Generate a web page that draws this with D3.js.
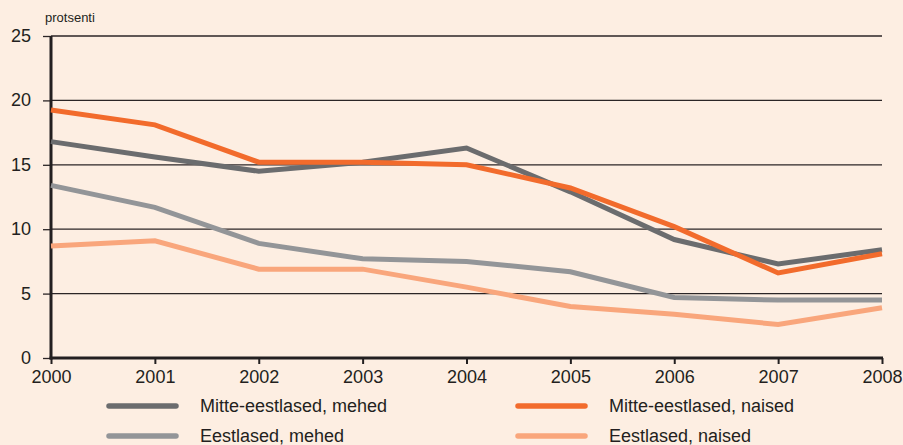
<!DOCTYPE html>
<html>
<head>
<meta charset="utf-8">
<script src="https://cdn.jsdelivr.net/npm/d3@7"></script>
<style>
  html, body { margin: 0; padding: 0; background: #fdeee2; }
  svg { display: block; font-family: "Liberation Sans", Arial, sans-serif; }
</style>
</head>
<body>
<svg id="chart" width="903" height="445"></svg>
<script>
// data
const years = [2000, 2001, 2002, 2003, 2004, 2005, 2006, 2007, 2008];
const yTicks = [0, 5, 10, 15, 20, 25];

const mitteMehed = [16.8, 15.6, 14.5, 15.2, 16.3, 12.9, 9.2, 7.3, 8.4];
const mitteNaised = [19.25, 18.1, 15.2, 15.2, 15.0, 13.2, 10.2, 6.6, 8.1];
const eestiMehed = [13.4, 11.7, 8.9, 7.7, 7.5, 6.7, 4.7, 4.5, 4.5];
const eestiNaised = [8.7, 9.1, 6.9, 6.9, 5.5, 4.0, 3.4, 2.6, 3.9];

const seriesNames = ["Mitte-eestlased, mehed", "Mitte-eestlased, naised", "Eestlased, mehed", "Eestlased, naised"];
const seriesColors = ["#6b6c6e", "#f26b2c", "#939598", "#f9a67c"];

const series = [
    { name: seriesNames[0], color: seriesColors[0], values: mitteMehed, legend: [0, 0] },
    { name: seriesNames[1], color: seriesColors[1], values: mitteNaised, legend: [1, 0] },
    { name: seriesNames[2], color: seriesColors[2], values: eestiMehed, legend: [0, 1] },
    { name: seriesNames[3], color: seriesColors[3], values: eestiNaised, legend: [1, 1] }
];

const svg = d3.select("#chart");
const plotLeft = 51, plotRight = 882, plotTop = 36, plotBottom = 358;
const fontFam = "'Liberation Sans', Arial, sans-serif";

const x = d3.scaleLinear().domain([2000, 2008]).range([plotLeft, plotRight]);
const y = d3.scaleLinear().domain([0, 25]).range([plotBottom, plotTop]);

// gridlines
svg.append("g")
    .selectAll("line")
    .data(yTicks.filter(d => d > 0))
    .join("line")
    .attr("x1", plotLeft).attr("x2", plotRight)
    .attr("y1", d => y(d)).attr("y2", d => y(d))
    .attr("stroke", "#2b2526")
    .attr("stroke-width", 1.3);

// y axis
const yAxis = svg.append("g")
    .attr("transform", `translate(${plotLeft},0)`)
    .call(d3.axisLeft(y).tickValues(yTicks).tickSize(8).tickPadding(12));
yAxis.select(".domain").remove();
yAxis.selectAll(".tick line").attr("stroke", "#2b2526").attr("stroke-width", 1.3);
yAxis.selectAll(".tick text")
    .attr("font-size", 18).attr("fill", "#231f20")
    .attr("font-family", fontFam)
    .attr("dy", "0.3em");

// x axis
const xAxis = svg.append("g")
    .attr("transform", `translate(0,${plotBottom})`)
    .call(d3.axisBottom(x).tickValues(years).tickFormat(d3.format("d")).tickSize(6).tickPadding(6));
xAxis.select(".domain").remove();
xAxis.selectAll(".tick line").attr("stroke", "#231f20").attr("stroke-width", 2);
xAxis.selectAll(".tick text")
    .attr("font-size", 18).attr("fill", "#231f20")
    .attr("font-family", fontFam)
    .attr("dy", "0.71em");

// axis lines
svg.append("line")
    .attr("x1", plotLeft).attr("x2", plotLeft)
    .attr("y1", plotTop).attr("y2", plotBottom + 1.5)
    .attr("stroke", "#231f20").attr("stroke-width", 3);
svg.append("line")
    .attr("x1", plotLeft - 1.5).attr("x2", plotRight + 1)
    .attr("y1", plotBottom).attr("y2", plotBottom)
    .attr("stroke", "#231f20").attr("stroke-width", 3);

svg.append("text")
    .attr("x", 45).attr("y", 22)
    .attr("font-size", 13).attr("fill", "#231f20")
    .attr("font-family", fontFam)
    .text("protsenti");

// lines
const line = d3.line()
    .x((d, i) => x(years[i]))
    .y(d => y(d));

svg.append("g")
    .selectAll("path")
    .data(series)
    .join("path")
    .attr("d", d => line(d.values))
    .attr("fill", "none")
    .attr("stroke", d => d.color)
    .attr("stroke-width", 5)
    .attr("stroke-linejoin", "miter");

// legend
const legCol = [109, 518], legRow = [406, 436];
const leg = svg.append("g")
    .selectAll("g")
    .data(series)
    .join("g")
    .attr("transform", d => `translate(${legCol[d.legend[0]]},${legRow[d.legend[1]]})`);
leg.append("line")
    .attr("x1", 0).attr("x2", 67)
    .attr("stroke", d => d.color)
    .attr("stroke-width", 5.5)
    .attr("stroke-linecap", "round");
leg.append("text")
    .attr("x", 91).attr("dy", "0.36em")
    .attr("font-size", 18).attr("fill", "#231f20")
    .attr("font-family", fontFam)
    .text(d => d.name);
</script>
</body>
</html>
